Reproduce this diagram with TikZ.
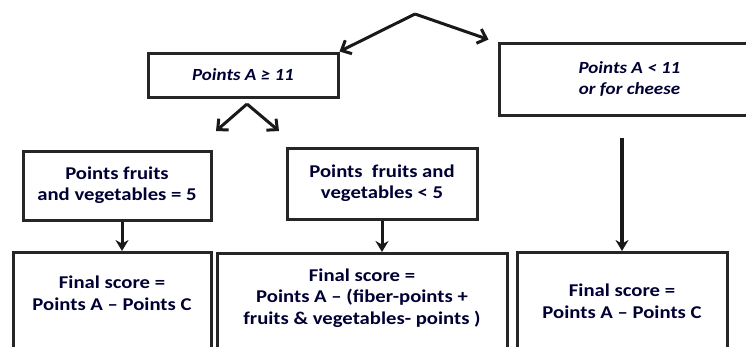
\documentclass[tikz,border=0pt]{standalone}
\usepackage{fontspec}
\setmainfont{Carlito}[FakeStretch=1.15]
\newfontfamily\itfont{Carlito}[FakeStretch=1.12]
\usetikzlibrary{arrows.meta}
\begin{document}
\begin{tikzpicture}[x=1pt,y=-1pt,
  box/.style={draw=black!85, line width=3pt, rectangle, inner sep=0pt, align=center, text=black!80!blue,
    font=\fontsize{18}{21}\selectfont\bfseries},
  ibox/.style={box, font=\itfont\fontsize{17}{21}\selectfont\bfseries\itshape},
  lbl/.style={inner sep=0pt, align=center, text=black!80!blue, font=\fontsize{18}{21.5}\selectfont\bfseries},
  arr/.style={draw=black!90, line width=3pt, -{Straight Barb[length=8pt,width=15pt,line width=3pt]}},
  darr/.style={draw=black!90, line width=3pt, -{Stealth[length=11pt,width=13pt]}}]
\useasboundingbox (0,0) rectangle (746,346);
\clip (0,0) rectangle (746,346);
% top-level boxes
\node[ibox, minimum width=190pt, minimum height=44pt] (b1) at (243,75) {Points A ≥ 11};
\node[ibox, minimum width=261pt, minimum height=72pt] (b2) at (629.5,79) {Points A < 11\\or for cheese};
% second level
\node[box, minimum width=188pt, minimum height=69pt] (c1) at (117,185.5) {Points fruits\\and vegetables = 5};
\node[box, minimum width=190pt, minimum height=71pt] (c2) at (382,183.5) {Points\ \ fruits and\\vegetables < 5};
% final boxes (extend beyond the bottom edge)
\node[box, minimum width=198pt, minimum height=130pt, anchor=north] (d1) at (112,251) {};
\node[box, minimum width=290pt, minimum height=130pt, anchor=north] (d2) at (362,252) {};
\node[box, minimum width=210pt, minimum height=130pt, anchor=north] (d3) at (622,251) {};
\node[lbl] (t1) at (112,293) {Final score =\\Points A -- Points C};
\node[lbl] (t2) at (362,298) {Final score =\\Points A -- (fiber-points +\\fruits \& vegetables- points )};
\node[lbl] (t3) at (622,301) {Final score =\\Points A -- Points C};
% connectors
\coordinate (apex) at (415,14);
\coordinate (apex2) at (247,104);
\coordinate (b2out) at (622,138);
\coordinate (k1) at (122,0);
\draw[arr] (apex) -- (b1.north east);
\draw[arr] (apex) -- ([xshift=-9pt,yshift=2pt]b2.north west);
\draw[arr] (apex2) -- (216,131);
\draw[arr] (apex2) -- (279,131);
\draw[darr] (c1.south -| k1) -- (d1.north -| k1);
\draw[darr] (c2.south) -- (d2.north -| c2.south);
\draw[darr, line width=3.6pt] (b2out) -- (d3.north);
\end{tikzpicture}
\end{document}
